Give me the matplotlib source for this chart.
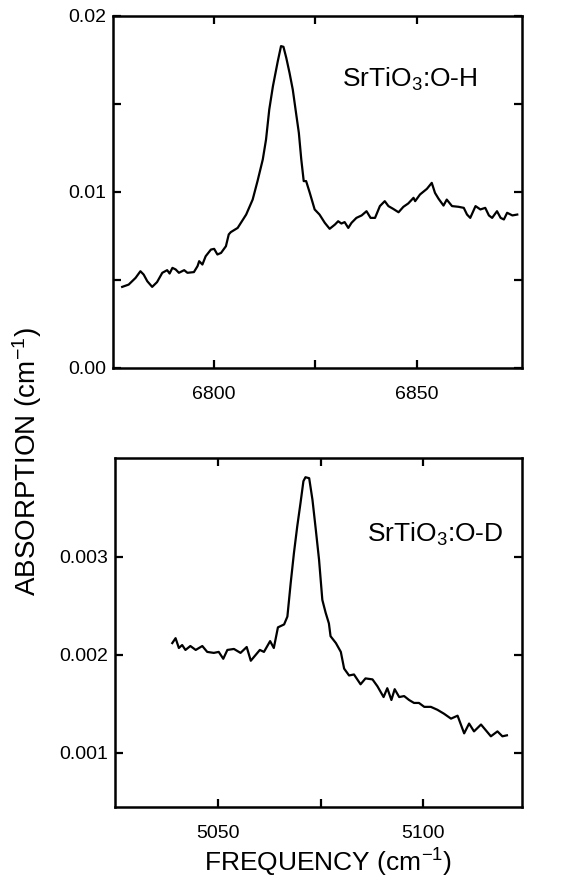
import matplotlib
matplotlib.use("Agg")
import matplotlib.pyplot as plt

plt.rcParams['font.family'] = ['Liberation Sans', 'DejaVu Sans']
plt.rcParams['mathtext.fontset'] = 'custom'
plt.rcParams['mathtext.rm'] = 'Liberation Sans'
plt.rcParams['mathtext.it'] = 'Liberation Sans'
plt.rcParams['mathtext.bf'] = 'Liberation Sans:bold'

# ---- data: SrTiO3:O-H ----
oh_freq = [6777.3, 6778.9, 6780.6, 6781.8, 6782.6, 6783.5, 6784.7, 6785.9, 6787.2, 6788.4,
           6789.0, 6789.7, 6790.5, 6791.3, 6792.6, 6793.4, 6795.0, 6795.9, 6796.3, 6797.1,
           6797.9, 6799.2, 6800.0, 6800.8, 6801.7, 6802.9, 6803.6, 6804.1, 6805.8, 6807.9,
           6809.5, 6810.7, 6812.0, 6812.8, 6813.6, 6814.5, 6815.7, 6816.5, 6817.1, 6817.8,
           6818.6, 6819.4, 6820.2, 6820.9, 6821.5, 6822.1, 6822.7, 6823.6, 6824.8, 6826.0,
           6827.3, 6828.5, 6829.8, 6830.6, 6831.4, 6832.2, 6833.1, 6833.9, 6835.1, 6836.4,
           6837.6, 6838.6, 6839.7, 6840.9, 6842.1, 6843.0, 6844.2, 6845.5, 6846.7, 6847.9,
           6849.2, 6849.6, 6850.8, 6852.5, 6853.7, 6854.5, 6855.4, 6856.6, 6857.4, 6858.7,
           6860.3, 6861.6, 6862.4, 6863.2, 6864.5, 6865.7, 6866.9, 6867.8, 6868.6, 6869.8,
           6870.7, 6871.5, 6872.3, 6873.6, 6874.8]
oh_abs = [0.00460, 0.00473, 0.00511, 0.00549, 0.00530, 0.00492, 0.00460, 0.00487, 0.00540, 0.00555,
          0.00536, 0.00568, 0.00559, 0.00540, 0.00555, 0.00540, 0.00544, 0.00578, 0.00606, 0.00587,
          0.00634, 0.00672, 0.00676, 0.00644, 0.00653, 0.00691, 0.00758, 0.00771, 0.00795, 0.00871,
          0.00956, 0.01061, 0.01184, 0.01297, 0.01468, 0.01600, 0.01742, 0.01828, 0.01824, 0.01761,
          0.01676, 0.01581, 0.01449, 0.01335, 0.01184, 0.01061, 0.01061, 0.00994, 0.00900, 0.00871,
          0.00824, 0.00790, 0.00814, 0.00833, 0.00820, 0.00828, 0.00795, 0.00824, 0.00852, 0.00866,
          0.00890, 0.00852, 0.00852, 0.00919, 0.00947, 0.00919, 0.00903, 0.00884, 0.00915, 0.00934,
          0.00966, 0.00947, 0.00985, 0.01017, 0.01051, 0.00994, 0.00960, 0.00922, 0.00956, 0.00919,
          0.00915, 0.00909, 0.00871, 0.00852, 0.00919, 0.00900, 0.00909, 0.00866, 0.00852, 0.00890,
          0.00852, 0.00843, 0.00881, 0.00866, 0.00871]

# ---- data: SrTiO3:O-D ----
od_freq = [5038.9, 5039.7, 5040.5, 5041.3, 5042.1, 5043.3, 5044.6, 5046.2, 5047.4, 5049.0,
           5050.2, 5051.3, 5052.3, 5053.9, 5055.5, 5057.0, 5058.0, 5059.2, 5060.2, 5061.2,
           5062.7, 5063.6, 5064.6, 5066.1, 5066.9, 5067.7, 5068.5, 5069.3, 5070.1, 5070.8,
           5071.3, 5072.2, 5073.0, 5073.8, 5074.6, 5075.4, 5076.2, 5077.0, 5077.4, 5078.7,
           5079.9, 5080.7, 5081.9, 5083.1, 5084.7, 5085.9, 5087.6, 5088.8, 5090.3, 5091.2,
           5092.2, 5093.0, 5094.1, 5095.3, 5096.5, 5097.7, 5098.9, 5100.2, 5101.8, 5103.4,
           5105.0, 5106.7, 5108.3, 5109.9, 5111.1, 5112.3, 5114.0, 5115.2, 5116.4, 5118.0,
           5119.2, 5120.3]
od_abs = [0.00212, 0.00217, 0.00207, 0.00210, 0.00205, 0.00209, 0.00205, 0.00209, 0.00203, 0.00202,
          0.00203, 0.00196, 0.00205, 0.00206, 0.00202, 0.00208, 0.00194, 0.00200, 0.00205, 0.00203,
          0.00214, 0.00207, 0.00228, 0.00231, 0.00239, 0.00273, 0.00304, 0.00331, 0.00355, 0.00377,
          0.00381, 0.00380, 0.00358, 0.00328, 0.00297, 0.00256, 0.00243, 0.00232, 0.00219, 0.00212,
          0.00203, 0.00186, 0.00179, 0.00180, 0.00170, 0.00176, 0.00175, 0.00168, 0.00157, 0.00166,
          0.00154, 0.00165, 0.00157, 0.00158, 0.00154, 0.00151, 0.00151, 0.00147, 0.00147, 0.00144,
          0.00140, 0.00135, 0.00138, 0.00120, 0.00130, 0.00122, 0.00129, 0.00123, 0.00117, 0.00122,
          0.00117, 0.00118]

oh_xticks = [6800, 6850]
oh_xminor = [6825]
oh_yticks = [0.00, 0.01, 0.02]
oh_ylabels = ['0.00', '0.01', '0.02']
oh_yminor = [0.005, 0.015]

od_xticks = [5050, 5100]
od_xminor = [5075]
od_yticks = [0.001, 0.002, 0.003]
od_ylabels = ['0.001', '0.002', '0.003']

fig = plt.figure(figsize=(5.7, 8.8), dpi=100)
ax1 = fig.add_axes([0.198, 0.582, 0.718, 0.400])
ax2 = fig.add_axes([0.202, 0.083, 0.714, 0.397])

def style(ax):
    for s in ax.spines.values():
        s.set_linewidth(1.8)
    ax.tick_params(which='both', direction='in', top=True, right=True,
                   length=6, width=1.6, labelsize=14)
    ax.tick_params(axis='x', pad=13)
    ax.tick_params(axis='y', pad=5)

ax1.plot(oh_freq, oh_abs, color='black', lw=1.6)
ax1.set_xlim(6775, 6876)
ax1.set_ylim(0.0, 0.02)
ax1.set_xticks(oh_xticks)
ax1.set_xticks(oh_xminor, minor=True)
ax1.set_yticks(oh_yticks)
ax1.set_yticklabels(oh_ylabels)
ax1.set_yticks(oh_yminor, minor=True)
style(ax1)
ax1.text(0.56, 0.82, r'SrTiO$_3$:O-H', transform=ax1.transAxes, fontsize=19,
         ha='left', va='center')

ax2.plot(od_freq, od_abs, color='black', lw=1.6)
ax2.set_xlim(5025, 5124)
ax2.set_ylim(0.00045, 0.00401)
ax2.set_xticks(od_xticks)
ax2.set_xticks(od_xminor, minor=True)
ax2.set_yticks(od_yticks)
ax2.set_yticklabels(od_ylabels)
style(ax2)
ax2.text(0.62, 0.78, r'SrTiO$_3$:O-D', transform=ax2.transAxes, fontsize=19,
         ha='left', va='center')

fig.text(0.047, 0.475, r'ABSORPTION (cm$^{-1}$)', rotation=90, fontsize=20,
         ha='center', va='center')
fig.text(0.575, 0.010, r'FREQUENCY (cm$^{-1}$)', fontsize=19,
         ha='center', va='baseline')

fig.savefig('out.png', dpi=100, facecolor='white')
